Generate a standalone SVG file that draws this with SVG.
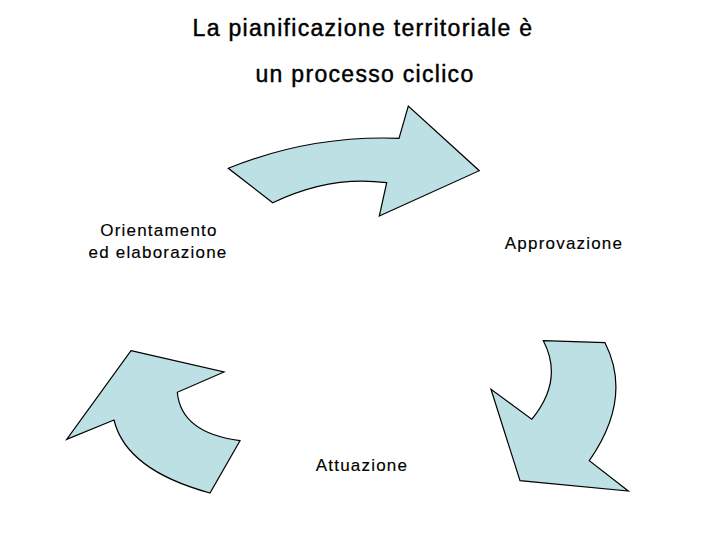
<svg xmlns="http://www.w3.org/2000/svg" width="720" height="540" viewBox="0 0 720 540">
<style>
.t{font-family:"Liberation Sans",Arial,sans-serif;fill:#000;text-anchor:middle;stroke:#000}
.title{font-size:23px;letter-spacing:1.3px;stroke-width:0.45px}
.lbl{font-size:17px;letter-spacing:1.2px;stroke-width:0.15px}
.arr{fill:#BDE0E4;stroke:#000;stroke-width:1.2;stroke-linejoin:miter}
</style>
<rect width="720" height="540" fill="#fff"/>
<g id="title">
<text class="t title" x="363" y="36">La pianificazione territoriale è</text>
<text class="t title" x="365" y="81.5">un processo ciclico</text>
</g>
<g id="connectors">
<path id="arrow-top" class="arr" d="M228.3,168.3 Q310,135 399,138.3 L408.3,106 L479.3,170.7 L379.3,216 L386.7,182.7 Q330,175 272.7,202.7 Z"/>
<path id="arrow-right" class="arr" d="M543.3,340.7 L605,342.7 Q633,398 589.3,460.7 L628.3,491 L520,480.7 L491,389.3 L531.7,419.3 Q564,380 543.3,340.7 Z"/>
<path id="arrow-left" class="arr" d="M131,350.7 L224,372 L177.3,392.3 Q181,433 240,440.7 L210,493 Q126,470 114,420 L66.7,439.3 Z"/>
</g>
<g id="node-orientamento">
<text class="t lbl" x="159" y="236">Orientamento</text>
<text class="t lbl" x="158" y="258">ed elaborazione</text>
</g>
<g id="node-approvazione">
<text class="t lbl" x="564" y="249">Approvazione</text>
</g>
<g id="node-attuazione">
<text class="t lbl" x="362" y="470.5">Attuazione</text>
</g>
</svg>
